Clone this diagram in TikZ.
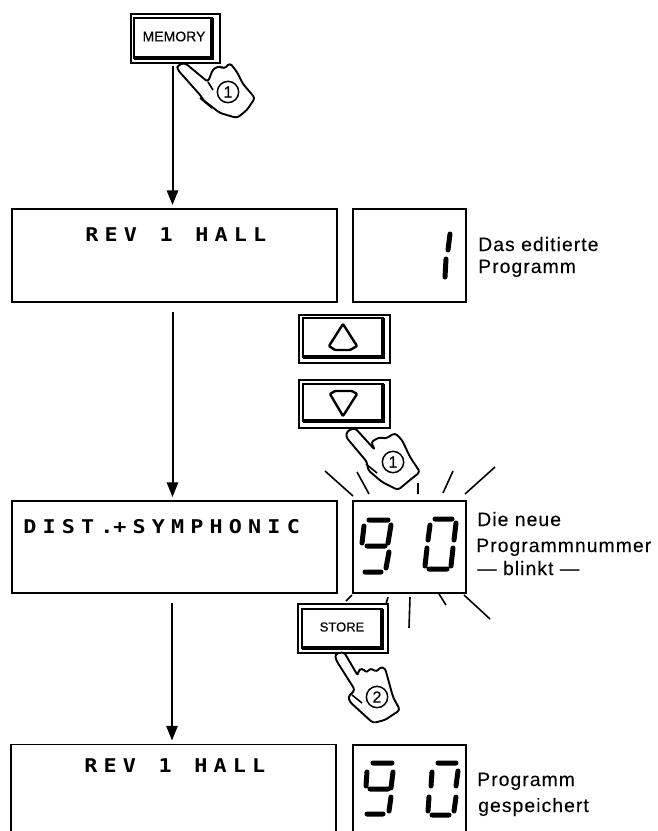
\documentclass[tikz,border=0pt]{standalone}
\usepackage{fontspec}
\setmainfont{Liberation Sans}
\newfontfamily\lab[LetterSpace=5.5,FakeBold=.15]{Liberation Sans}
\newfontfamily\btn[FakeBold=.4]{Liberation Sans}
\newfontfamily\lcd[LetterSpace=32.5,FakeStretch=1.15]{DejaVu Sans Mono Bold}
\newcommand\widesp{\spaceskip=17pt\relax}
\newcommand\thinsp{\spaceskip=.01pt\relax}
\usetikzlibrary{arrows.meta}
\tikzset{
  lcdbox/.style={draw=black,line width=1.8*.75pt,anchor=north west,inner sep=0pt},
  arr/.style={line width=2*.75pt,-{Triangle[length=11pt,width=8.5pt]},shorten >=3*.75pt},
  seg/.style={line width=5*.75pt,line cap=round},
  ray/.style={line width=1.6*.75pt},
  outerbtn/.style={draw=black,line width=2*.75pt,anchor=north west,inner sep=0pt},
  innerbtn/.style={line width=2*.75pt},
  heavy/.style={line width=4*.75pt},
  hand/.style={draw=black,fill=white,line width=1.9*.75pt,rounded corners=2.2pt,line join=round},
  crease/.style={line width=1.6*.75pt},
  num/.style={draw=black,circle,line width=1.5*.75pt,inner sep=0pt,minimum size=16pt,font=\btn\fontsize{12pt}{12pt}\selectfont},
  side/.style={anchor=base west,inner sep=0pt,font=\lab\fontsize{14.5pt}{14.5pt}\selectfont},
  disp/.style={anchor=base west,inner sep=0pt,font=\lcd\fontsize{14.2pt}{14.2pt}\selectfont},
  tri/.style={line width=2.4*.75pt,line join=round,rounded corners=.6pt}
}
\begin{document}
\begin{tikzpicture}[x=.75pt,y=-.75pt]
\clip (0,0) rectangle (657,831);
\fill[white] (0,0) rectangle (657,831);

% buttons
\node[outerbtn,minimum width=66.75pt,minimum height=36.75pt] (mem) at (130,13) {};
\draw[innerbtn] (134,18) rectangle (212,58);
\draw[heavy] (212,18) -- (212,58) -- (134,58);
\node[inner sep=0pt,font=\btn\fontsize{10.5pt}{10.5pt}\selectfont] (memt) at (174,36.5) {MEMORY};

\node[outerbtn,minimum width=68.25pt,minimum height=36pt] (up) at (298,314) {};
\draw[innerbtn] (303,318) rectangle (383,357);
\draw[heavy] (383,318) -- (383,357) -- (303,357);
\draw[tri] (343,324) -- (357,346) -- (350,350) -- (335,350) -- (329,346) -- cycle;

\node[outerbtn,minimum width=68.25pt,minimum height=36pt] (down) at (298,379) {};
\draw[innerbtn] (303,384) rectangle (383,421);
\draw[heavy] (383,384) -- (383,421) -- (303,421);
\draw[tri] (343,416) -- (357,394) -- (352,391) -- (335,391) -- (330,394) -- cycle;

\node[outerbtn,minimum width=67.5pt,minimum height=36.75pt] (store) at (297,603) {};
\draw[innerbtn] (302,609) rectangle (382,648);
\draw[heavy] (382,609) -- (382,648) -- (302,648);
\node[inner sep=0pt,font=\btn\fontsize{9.75pt}{9.75pt}\selectfont] (storet) at (342,627) {STORE};

% LCD boxes
\node[lcdbox,minimum width=243.75pt,minimum height=69.75pt] (b1) at (11,208) {};
\node[lcdbox,minimum width=84.75pt,minimum height=69.75pt] (n1) at (352,208) {};
\node[lcdbox,minimum width=243.75pt,minimum height=69pt] (b2) at (11,500) {};
\node[lcdbox,minimum width=84.75pt,minimum height=69pt] (n2) at (352,500) {};
\node[lcdbox,minimum width=243.75pt,minimum height=90pt] (b3) at (10,743.5) {};
\node[lcdbox,minimum width=84.75pt,minimum height=90pt] (n3) at (352,744) {};

\node[disp] (t1) at (85,241) {\widesp REV 1 HALL};
\node[disp] (t2) at (23,533) {\thinsp DIST. +SYMPHONIC};
\node[disp] (t3) at (84,772) {\widesp REV 1 HALL};

% arrows
\coordinate (s1) at (172.5,66);
\coordinate (s2) at (172.5,312);
\coordinate (s3) at (172,603);
\draw[arr] (s1) -- (s1 |- b1.north);
\draw[arr] (s2) -- (s2 |- b2.north);
\draw[arr] (s3) -- (s3 |- b3.north);

% digits
\draw[seg] (450,234) -- (448,250) (446,259) -- (445,277);

\draw[seg] (369,520) -- (388,520) (364,526) -- (362,543) (391,525) -- (388,543)
  (367,546) -- (385,546) (389,552) -- (386,568) (365,572) -- (381,572);
\draw[seg] (435,519) -- (452,519) (430,525) -- (428,540) (456,523) -- (454,540)
  (427,548) -- (425,566) (453,548) -- (451,566) (429,569) -- (447,569);

\draw[seg] (373,763) -- (392,763) (367,772) -- (366,786) (393,772) -- (391,788)
  (370,789) -- (388,789) (391,797) -- (389,811) (367,814) -- (383,814);
\draw[seg] (438,763) -- (456,763) (432,772) -- (431,786) (458,771) -- (456,786)
  (429,797) -- (428,811) (456,797) -- (454,811) (432,815) -- (449,815);

% rays
\draw[ray] (325,471) -- (353,496) (357,472) -- (369,494) (418,483) -- (418,494)
  (453,471) -- (443,493) (495,467) -- (465,494)
  (352,595) -- (346,601) (388,597) -- (386,604) (410,597) -- (409,628)
  (439,594) -- (446,605) (464,595) -- (490,619);

% hands
\draw[hand] (178,65) -- (185,63) -- (208,82) -- (213,69) -- (220,66) -- (224,69) -- (230,63) -- (237,72)
  -- (243,84) -- (255,98) -- (247,110) -- (237,118) -- (220,113) -- (203,100) -- (201,96) -- (177,69) -- cycle;
\draw[crease] (200,98) -- (212,108);
\draw[crease] (208,82) -- (213,90);
\node[num] (c1) at (228,92) {1};

\draw[hand] (347,431) -- (355,428) -- (375,450) -- (371,442) -- (380,437) -- (385,439) -- (395,433) -- (402,440)
  -- (410,457) -- (420,472) -- (410,480) -- (398,490) -- (382,482) -- (368,470) -- (367,462) -- (346,437) -- cycle;
\draw[crease] (366,464) -- (377,473);
\node[num] (c2) at (393,462) {1};

\draw[hand] (335,654) -- (344,652) -- (358,676) -- (358,671) -- (362,668) -- (367,673) -- (370,668) -- (377,672) -- (380,667) -- (385,668)
  -- (393,697) -- (400,710) -- (385,720) -- (373,723) -- (350,702) -- (348,697) -- (355,690) -- (336,660) -- cycle;
\draw[crease] (352,695) -- (362,703);
\node[num] (c3) at (377,697) {2};

% side labels
\node[side] (l1) at (478,251) {Das editierte};
\node[side] (l2) at (478,273) {Programm};
\node[side] (l3) at (477,526) {Die neue};
\node[side] (l4) at (476,552) {Programmnummer};
\node[side] (l5) at (477,575) {— blinkt —};
\node[side] (l6) at (477,786) {Programm};
\node[side] (l7) at (478,812) {gespeichert};
\end{tikzpicture}
\end{document}
